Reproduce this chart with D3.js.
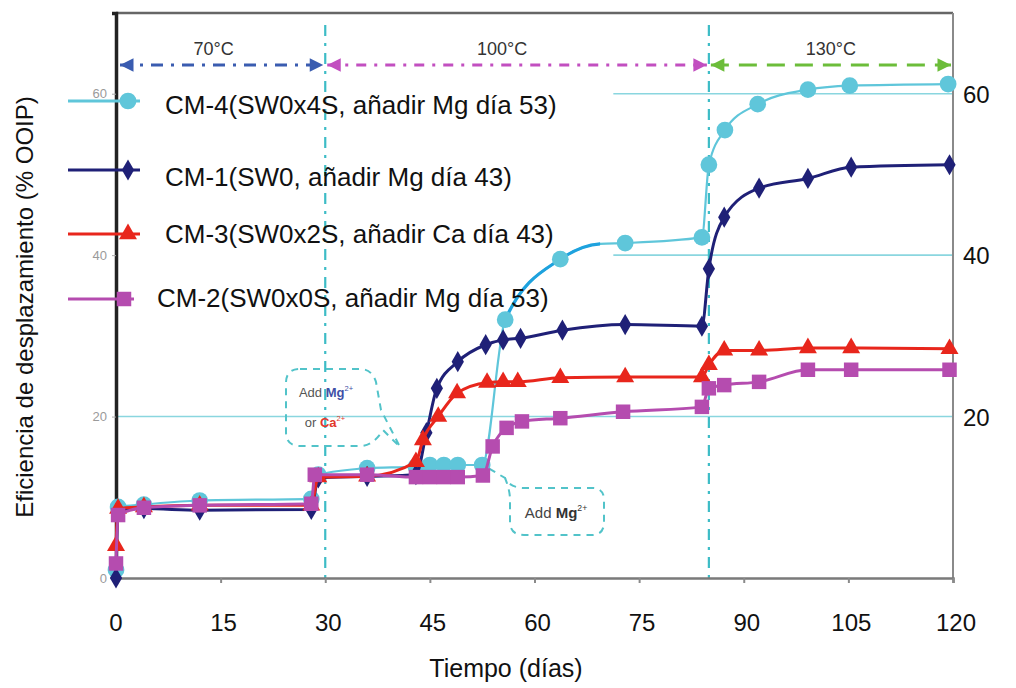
<!DOCTYPE html>
<html><head><meta charset="utf-8">
<script src="https://cdn.jsdelivr.net/npm/d3@7"></script>
<style>body{margin:0;background:#fff}svg{display:block;font-family:"Liberation Sans",Arial,sans-serif}</style>
</head><body><svg id="c" width="1016" height="688"></svg>
<script>
// ---- data ----
const xTicks = [0, 15, 30, 45, 60, 75, 90, 105, 120];
const yTicksLeft = [0, 20, 40, 60];
const yTicksRight = [20, 40, 60];
const refLines = [60, 40, 20];
const phaseBounds = [0, 30, 85, 120];
const phaseLabels = ["70°C", "100°C", "130°C"];

const cm4Days   = [0, 0.3, 4, 12, 28, 29, 36, 43, 45, 47, 49, 52.5, 55.8, 63.7, 73, 84, 85, 87.3, 92, 99.2, 105.2, 119.3];
const cm4Values = [1, 8.8, 9.1, 9.6, 9.8, 12.8, 13.6, 13.8, 14, 14, 14, 14, 32, 39.5, 41.5, 42.2, 51.2, 55.5, 58.7, 60.5, 61, 61.2];
// bright-blue stretch of the CM-4 curve (start day, end day) and the unmarked end point of that stretch
const cm4AccentDays   = [55.8, 69.4];
const cm4AccentValues = [32, 41.4];

const cm1Days   = [0, 0.3, 4, 12, 28, 29, 36, 43, 44.5, 46, 49, 53, 55.5, 58, 64, 73, 84, 85, 87.2, 92.2, 99.2, 105.4, 119.5];
const cm1Values = [0, 8.4, 8.6, 8.4, 8.5, 12.4, 12.6, 12.8, 18, 23.5, 26.8, 28.9, 29.5, 29.7, 30.7, 31.4, 31.2, 38.3, 44.7, 48.3, 49.5, 50.9, 51.2];

const cm3Days   = [0, 0.3, 4, 12, 28, 29, 36, 43, 44, 46.2, 48.9, 53.2, 55.5, 57.6, 63.7, 73, 84, 85, 87.2, 92.2, 99.2, 105.4, 119.5];
const cm3Values = [4, 8.6, 8.8, 9, 9, 12.5, 12.6, 14.4, 17.1, 20, 22.9, 24.2, 24.3, 24.3, 24.8, 24.9, 24.9, 26.4, 28.2, 28.2, 28.5, 28.5, 28.4];

const cm2Days   = [0, 0.3, 4, 12, 28, 28.5, 36, 43, 45, 47, 49, 52.6, 54, 56, 58.2, 63.7, 72.7, 84, 85, 87.2, 92.2, 99.2, 105.4, 119.5];
const cm2Values = [1.8, 7.8, 8.7, 9, 9.2, 12.8, 12.8, 12.5, 12.5, 12.5, 12.5, 12.7, 16.3, 18.6, 19.4, 19.8, 20.6, 21.2, 23.5, 23.9, 24.3, 25.8, 25.8, 25.8];

const seriesNames = [
  "CM-4(SW0x4S, añadir Mg día 53)",
  "CM-1(SW0, añadir Mg día 43)",
  "CM-3(SW0x2S, añadir Ca día 43)",
  "CM-2(SW0x0S, añadir Mg día 53)"
];

// ---- drawing ----
const svg = d3.select("#c");
const x = d3.scaleLinear().domain([0, 120]).range([116, 953]);
const y = d3.scaleLinear().domain([0, 70]).range([578, 13]);

const series = [
  {name: seriesNames[0], days: cm4Days, vals: cm4Values, color: "#5fc6da", sym: d3.symbolCircle, size: 220},
  {name: seriesNames[1], days: cm1Days, vals: cm1Values, color: "#1f2077", sym: d3.symbolDiamond, size: 130},
  {name: seriesNames[2], days: cm3Days, vals: cm3Values, color: "#e8261c", sym: d3.symbolTriangle, size: 140},
  {name: seriesNames[3], days: cm2Days, vals: cm2Values, color: "#b54caf", sym: d3.symbolSquare, size: 210}
];

// reference horizontal lines
svg.append("g").selectAll("line").data(refLines).join("line")
  .attr("x1", d => d === 20 ? x(0) : x(71.3)).attr("x2", x(120))
  .attr("y1", d => y(d)).attr("y2", d => y(d))
  .attr("stroke", "#8ad6df").attr("stroke-width", 1.6);

// vertical phase lines
svg.append("g").selectAll("line").data([phaseBounds[1], phaseBounds[2]]).join("line")
  .attr("x1", d => x(d)).attr("x2", d => x(d))
  .attr("y1", 25).attr("y2", y(0))
  .attr("stroke", "#3dbcc6").attr("stroke-width", 2.2)
  .attr("stroke-dasharray", "11,7,3,7");

// frame
svg.append("line").attr("x1", x(0)).attr("x2", x(120)).attr("y1", y(70)).attr("y2", y(70)).attr("stroke", "#666").attr("stroke-width", 2.5);
svg.append("line").attr("x1", x(120)).attr("x2", x(120)).attr("y1", y(70)).attr("y2", y(0)).attr("stroke", "#8a8a8a").attr("stroke-width", 2);

// x axis
const xAxis = d3.axisBottom(x).tickValues(xTicks).tickSize(5).tickFormat("");
const gx = svg.append("g").attr("transform", `translate(0,${y(0)})`).call(xAxis);
gx.select(".domain").attr("stroke", "#7a7a7a").attr("stroke-width", 2.5);
gx.selectAll(".tick line").attr("stroke", "#8a8a8a").attr("stroke-width", 2);
svg.append("g").selectAll("text").data(xTicks).join("text")
  .attr("x", d => x(d) + (d === 0 ? 0 : 3)).attr("y", 631).attr("text-anchor", "middle")
  .attr("font-size", 24).attr("fill", "#111").text(d => d);

// left axis (small gray labels)
const yAxisL = d3.axisLeft(y).tickValues(yTicksLeft).tickSize(4).tickFormat(d => d);
const gyl = svg.append("g").attr("transform", `translate(${x(0)},0)`).call(yAxisL);
gyl.select(".domain").attr("stroke", "#222").attr("stroke-width", 3.5);
gyl.selectAll(".tick line").attr("stroke", "#aaa");
gyl.selectAll(".tick text").attr("font-size", 13).attr("fill", "#9a9a9a").attr("x", -9)
  .attr("font-family", "Liberation Sans, Arial, sans-serif");

// right labels
svg.append("g").selectAll("text").data(yTicksRight).join("text")
  .attr("x", 963).attr("y", d => y(d) + 9).attr("font-size", 24).attr("fill", "#111").text(d => d);

// axis titles
svg.append("text").attr("x", 506).attr("y", 677).attr("text-anchor", "middle")
  .attr("font-size", 25).attr("fill", "#111").text("Tiempo (días)");
svg.append("text").attr("transform", "translate(33,307) rotate(-90)").attr("text-anchor", "middle")
  .attr("font-size", 24).attr("fill", "#111").text("Eficiencia de desplazamiento (% OOIP)");

// temperature arrows
const defs = svg.append("defs");
const arrowColors = ["#3a5cb0", "#c24fc0", "#6cbd3a"];
arrowColors.forEach((c, i) => {
  defs.append("marker").attr("id", "ae" + i).attr("viewBox", "0 0 10 10").attr("refX", 10).attr("refY", 5)
    .attr("markerWidth", 5.5).attr("markerHeight", 4.5).attr("orient", "auto-start-reverse").attr("markerUnits", "strokeWidth")
    .append("path").attr("d", "M0,0L10,5L0,10z").attr("fill", c);
});
const arrowY = 65;
const dashes = ["12,8,3,8", "10,8,3,8", "18,10"];
const labOff = [-8, -15, 0];
for (let i = 0; i < 3; i++) {
  const x1 = x(phaseBounds[i]) + (i === 0 ? 4 : 2), x2 = x(phaseBounds[i + 1]) - 2;
  svg.append("line").attr("x1", x1).attr("x2", x2).attr("y1", arrowY).attr("y2", arrowY)
    .attr("stroke", arrowColors[i]).attr("stroke-width", 3).attr("stroke-dasharray", dashes[i])
    .attr("marker-start", `url(#ae${i})`).attr("marker-end", `url(#ae${i})`);
  svg.append("text").attr("x", (x1 + x2) / 2 + labOff[i]).attr("y", 55)
    .attr("text-anchor", "middle").attr("font-size", 18).attr("fill", "#333").text(phaseLabels[i]);
}

// annotations
const ann = svg.append("g").attr("fill", "none").attr("stroke", "#52c3c9").attr("stroke-width", 2).attr("stroke-dasharray", "7,6");
ann.append("path").attr("d", "M300,369 L360,369 Q372,369 376,382 L381,410 L400,447 L383,430 Q373,446 360,446 L300,446 Q286,446 286,432 L286,383 Q286,369 300,369Z");
ann.append("path").attr("d", "M478,462 L505,478 Q510,488 525,488 L592,488 Q604,488 604,500 L604,522 Q604,535 592,535 L524,535 Q510,535 510,522 L510,500 Q510,490 505,478");
function annText(xp, yp, fs, parts) {
  const t = svg.append("text").attr("x", xp).attr("y", yp).attr("text-anchor", "middle").attr("font-size", fs);
  parts.forEach(p => {
    const ts = t.append("tspan").attr("fill", p.c).text(p.t);
    if (p.sup) ts.attr("font-size", fs * 0.58).attr("dy", -fs * 0.5);
    if (p.b) ts.attr("font-weight", "bold");
  });
}
annText(326, 397, 13, [{t: "Add ", c: "#555"}, {t: "Mg", c: "#3f4fa6", b: 1}, {t: "2+", c: "#3f4fa6", sup: 1}]);
annText(325, 427, 13, [{t: "or ", c: "#555"}, {t: "Ca", c: "#e2372b", b: 1}, {t: "2+", c: "#e2372b", sup: 1}]);
annText(556, 518, 15, [{t: "Add ", c: "#444"}, {t: "Mg", c: "#333", b: 1}, {t: "2+", c: "#333", sup: 1}]);

// series lines and markers
const line = d3.line().x(d => x(d[0])).y(d => y(d[1])).curve(d3.curveMonotoneX);
defs.append("clipPath").attr("id", "accClip").append("rect")
  .attr("x", x(cm4AccentDays[0])).attr("width", x(cm4AccentDays[1]) - x(cm4AccentDays[0]))
  .attr("y", 0).attr("height", 688);
series.forEach((s, i) => {
  const pts = s.days.map((d, k) => [d, s.vals[k]]);
  let linePts = pts;
  if (i === 0) {
    linePts = pts.concat([[cm4AccentDays[1], cm4AccentValues[1]]]).sort((a, b) => a[0] - b[0]);
  }
  const g = svg.append("g");
  g.append("path").attr("d", line(linePts)).attr("fill", "none").attr("stroke", s.color).attr("stroke-width", i === 0 ? 2.2 : 3);
  if (i === 0) {
    g.append("path").attr("d", line(linePts)).attr("fill", "none").attr("stroke", "#1ea2de")
      .attr("stroke-width", 3.2).attr("clip-path", "url(#accClip)");
  }
  g.selectAll("path.m").data(pts).join("path").attr("class", "m")
    .attr("transform", d => `translate(${x(d[0])},${y(d[1])})`)
    .attr("d", d3.symbol().type(s.sym).size(s.size)).attr("fill", s.color);
});

// legend
const legY = [101, 170, 234, 299];
const legTextY = [105, 177, 234, 298];
const legTx = [165, 165, 165, 157];
const leg = svg.append("g");
series.forEach((s, i) => {
  leg.append("line").attr("x1", 68).attr("x2", i === 3 ? 134 : 140).attr("y1", legY[i]).attr("y2", legY[i])
    .attr("stroke", s.color).attr("stroke-width", 3);
  leg.append("path").attr("transform", `translate(${i === 3 ? 124 : 128},${legY[i]})`)
    .attr("d", d3.symbol().type(s.sym).size(s.size)).attr("fill", s.color);
  leg.append("text").attr("x", legTx[i]).attr("y", legTextY[i] + 9).attr("font-size", 26).attr("fill", "#111").text(s.name);
});
</script></body></html>
